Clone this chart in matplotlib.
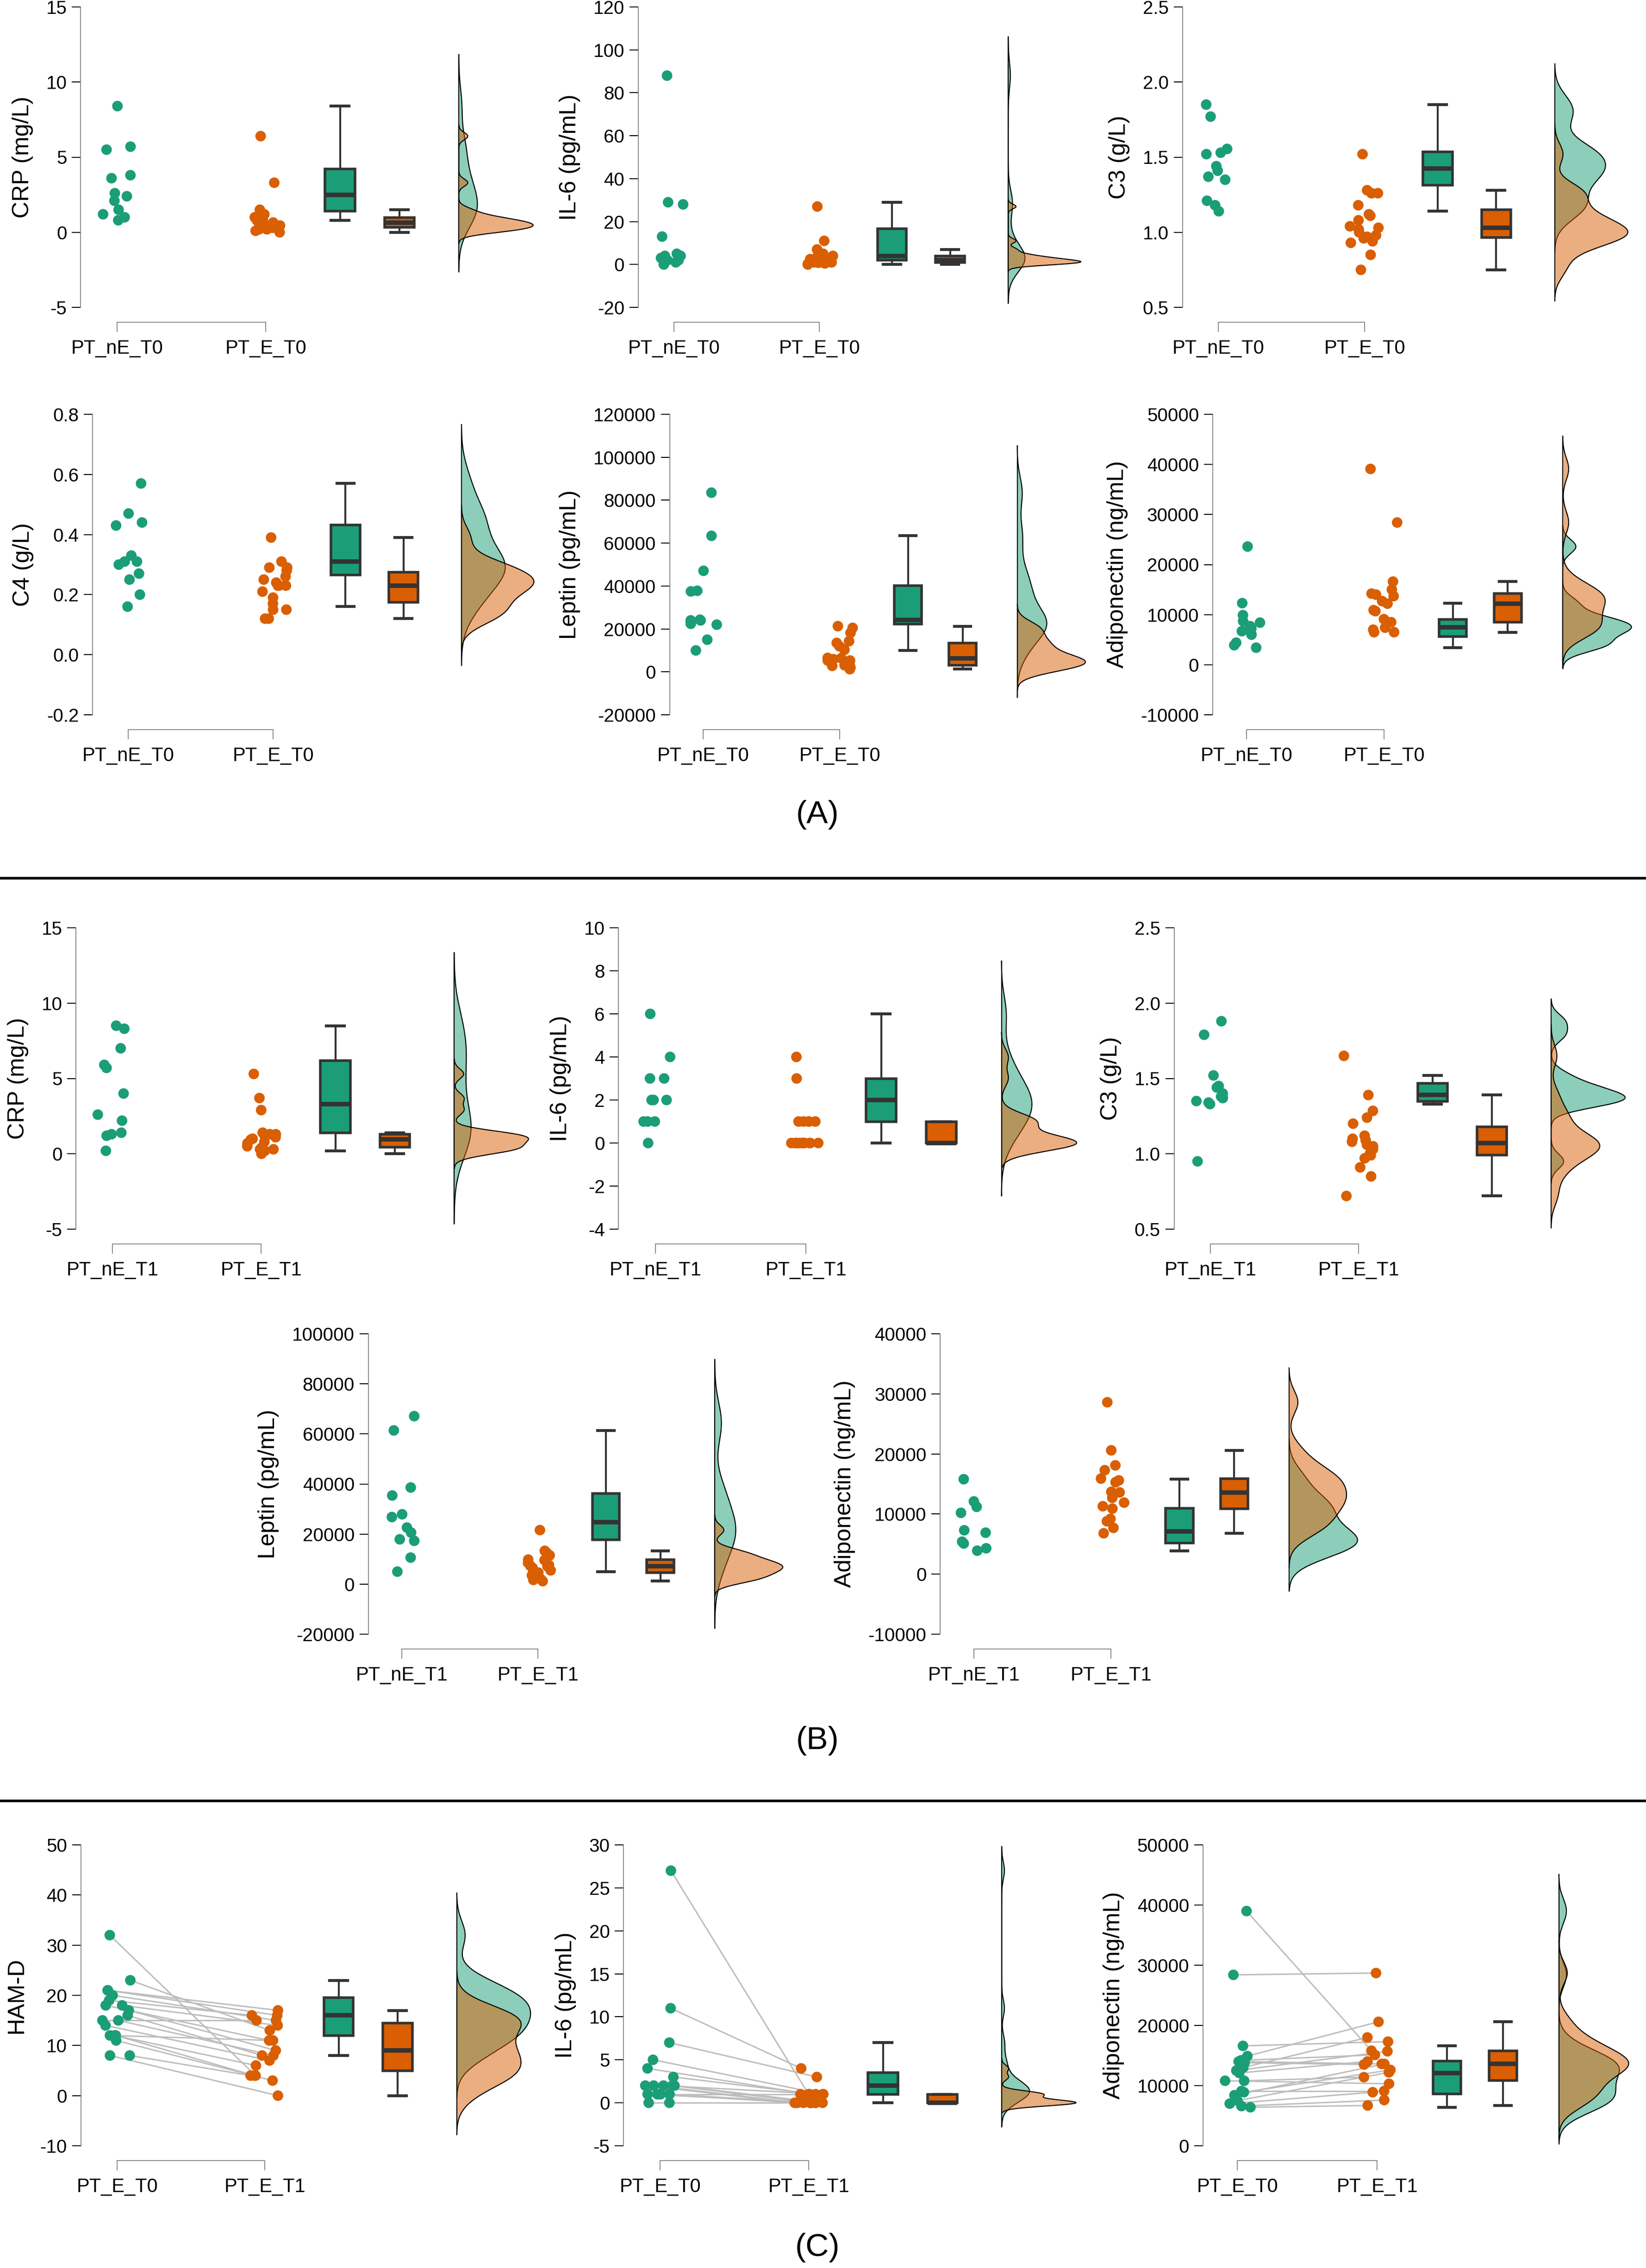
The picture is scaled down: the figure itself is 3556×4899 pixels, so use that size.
import numpy as np
import matplotlib
matplotlib.use("Agg")
import matplotlib.pyplot as plt
from matplotlib.lines import Line2D

plt.rcParams["font.family"] = ["Liberation Sans", "DejaVu Sans"]
plt.rcParams["axes.unicode_minus"] = False

TEAL = "#1B9E77"
ORANGE = "#D95F02"
DARK = "#333333"

# ---------------- (A) baseline T0 ----------------
crp_ne_t0 = [8.4, 5.7, 5.5, 3.8, 3.6, 2.6, 2.4, 2.1, 1.5, 1.2, 1.0, 0.8]
crp_e_t0 = [6.4, 3.3, 1.5, 1.2, 1.0, 0.9, 0.8, 0.7, 0.65, 0.6, 0.5, 0.45,
            0.4, 0.3, 0.2, 0.2, 0.1, 0.0]
il6_ne_t0 = [88, 29, 28, 13, 5, 4, 4, 3, 2, 2, 1, 0]
il6_e_t0 = [27, 11, 7, 5, 4, 3.5, 3, 2.5, 2, 2, 1.5, 1.2, 1, 1, 0.8, 0.5, 0.3, 0]
c3_ne_t0 = [1.85, 1.77, 1.555, 1.53, 1.52, 1.44, 1.41, 1.37, 1.35, 1.21, 1.18, 1.14]
c3_e_t0 = [1.52, 1.28, 1.26, 1.26, 1.18, 1.12, 1.11, 1.08, 1.04, 1.03, 1.02, 1.0,
           0.98, 0.97, 0.96, 0.94, 0.93, 0.85, 0.75]
c4_ne_t0 = [0.57, 0.47, 0.44, 0.43, 0.33, 0.31, 0.31, 0.30, 0.27, 0.25, 0.20, 0.16]
c4_e_t0 = [0.39, 0.31, 0.29, 0.29, 0.28, 0.26, 0.25, 0.24, 0.23, 0.23, 0.23, 0.21,
           0.19, 0.17, 0.15, 0.15, 0.12, 0.12]
leptin_ne_t0 = [83500, 63400, 47100, 37800, 37500, 24300, 24000, 24000, 22400,
                22000, 15000, 10000]
leptin_e_t0 = [21300, 20500, 18200, 14300, 13500, 11900, 10300, 6500, 6400, 5900,
               5300, 5300, 3100, 3100, 2800, 2000, 1250]
adipo_ne_t0 = [23600, 12300, 9900, 8700, 8400, 7700, 7200, 6700, 6000, 4400, 3900, 3400]
adipo_e_t0 = [39100, 28400, 16600, 15000, 14200, 14000, 13700, 12700, 12200, 10900,
              10700, 9100, 8500, 7400, 7000, 6500, 6500]

# ---------------- (B) follow-up T1 ----------------
crp_ne_t1 = [8.5, 8.3, 7.0, 5.9, 5.7, 4.0, 2.6, 2.2, 1.4, 1.3, 1.2, 0.2]
crp_e_t1 = [5.3, 3.7, 2.9, 1.4, 1.3, 1.3, 1.2, 1.1, 1.0, 0.95, 0.8, 0.7, 0.5, 0.4,
            0.3, 0.3, 0.2, 0.0]
il6_ne_t1 = [6, 4, 3, 3, 2, 2, 2, 2, 1, 1, 1, 0]
il6_e_t1 = [4, 3, 1, 1, 1, 1, 1, 0, 0, 0, 0, 0, 0, 0, 0, 0, 0, 0]
c3_ne_t1 = [1.88, 1.79, 1.52, 1.45, 1.44, 1.40, 1.38, 1.37, 1.35, 1.34, 1.33, 0.95]
c3_e_t1 = [1.65, 1.39, 1.285, 1.24, 1.20, 1.12, 1.10, 1.09, 1.08, 1.06, 1.05, 1.03,
           1.00, 0.99, 0.97, 0.91, 0.85, 0.72]
leptin_ne_t1 = [67100, 61400, 38600, 35400, 27900, 26800, 22600, 20600, 17900,
                17300, 10600, 5000]
leptin_e_t1 = [21600, 13300, 12500, 11500, 9800, 9600, 8500, 7600, 7300, 7100, 6500,
               5500, 4600, 4500, 3500, 2000, 1700, 1200]
adipo_ne_t1 = [15800, 12100, 11200, 10200, 7300, 6900, 5400, 5100, 4300, 3900]
adipo_e_t1 = [28600, 20600, 18100, 17300, 15900, 15600, 15300, 13700, 13600, 12700,
              11900, 11300, 10900, 9200, 8800, 7700, 6800]

# ---------------- (C) paired exercise group T0 -> T1 ----------------
hamd_t0 = [32, 23, 21, 21, 20, 19, 18, 18, 17, 16, 15, 15, 14, 12, 12, 12, 11, 8, 8]
hamd_t1 = [4, 13, 17, 16, 15, 16, 14, 11, 9, 8, 15, 8, 7, 11, 6, 4, 3, 4, 0]
il6_pair_t0 = [27, 11, 7, 5, 4, 3, 2, 2, 2, 2, 2, 1, 1, 1, 1, 1, 1, 0, 0]
il6_pair_t1 = [1, 4, 3, 1, 1, 1, 1, 0, 0, 0, 0, 1, 0, 0, 0, 0, 0, 0, 0]
adipo_pair_t0 = [39000, 28400, 16600, 14900, 14200, 14000, 13800, 13000, 12500, 12100,
                 10800, 10800, 9100, 8900, 8400, 7500, 7000, 6600, 6400]
adipo_pair_t1 = [15800, 28700, 17300, 20600, 15100, 13600, 13500, 18000, 15700, 14000,
                 11400, 10300, 9100, 12600, 13600, 12200, 8900, 7600, 6700]

labels_t0 = ["PT_nE_T0", "PT_E_T0"]
labels_t1 = ["PT_nE_T1", "PT_E_T1"]
labels_pair = ["PT_E_T0", "PT_E_T1"]

W, H = 3556, 4899
fig = plt.figure(figsize=(W / 100, H / 100), dpi=100)


def nrd0(x):
    x = np.asarray(x, float)
    sd = np.std(x, ddof=1)
    q75, q25 = np.percentile(x, [75, 25])
    lo = min(sd, (q75 - q25) / 1.34)
    if lo <= 0:
        lo = sd if sd > 0 else 1.0
    return 0.9 * lo * len(x) ** -0.2


def kde(x):
    x = np.asarray(x, float)
    bw = nrd0(x)
    y = np.linspace(x.min() - 3 * bw, x.max() + 3 * bw, 600)
    d = np.exp(-0.5 * ((y[:, None] - x[None, :]) / bw) ** 2).sum(1)
    d /= len(x) * bw * np.sqrt(2 * np.pi)
    return y, d


def raincloud(spec, a, b, xlabels, ylabel, yticks, fmt, paired=False, seed=0):
    cat1, unit, top, bot = spec
    x0, x1 = -0.245, 2.85
    left = cat1 + x0 * unit
    ax = fig.add_axes([left / W, 1 - bot / H, (x1 - x0) * unit / W, (bot - top) / H])
    ax.set_xlim(x0, x1)
    ax.set_ylim(yticks[0], yticks[-1])

    rng = np.random.default_rng(seed)
    ja = rng.uniform(-0.1, 0.1, len(a))
    jb = 1 + rng.uniform(-0.1, 0.1, len(b))
    if paired:
        for i in range(len(a)):
            ax.plot([ja[i], jb[i]], [a[i], b[i]], color="#BDBDBD", lw=2.2, zorder=2)
    ax.scatter(ja, a, s=270, color=TEAL, edgecolors="none", zorder=3, clip_on=False)
    ax.scatter(jb, b, s=270, color=ORANGE, edgecolors="none", zorder=3, clip_on=False)

    for pos, vals, col in [(1.5, a, TEAL), (1.9, b, ORANGE)]:
        ax.boxplot([vals], positions=[pos], widths=0.2, patch_artist=True,
                   showfliers=False, capwidths=0.12,
                   boxprops=dict(facecolor=col, edgecolor=DARK, linewidth=4),
                   medianprops=dict(color=DARK, linewidth=7),
                   whiskerprops=dict(color=DARK, linewidth=3),
                   capprops=dict(color=DARK, linewidth=4.5))

    ya, da = kde(a)
    yb, db = kde(b)
    scale = 0.5 / max(da.max(), db.max())
    base = 2.3
    for yy, dd, col in [(ya, da, TEAL), (yb, db, ORANGE)]:
        ax.fill_betweenx(yy, base, base + dd * scale, color=col, alpha=0.5, lw=0,
                         zorder=2, clip_on=False)
        ax.plot(base + dd * scale, yy, color="black", lw=1.6, zorder=2, clip_on=False)
        ax.plot([base, base], [yy[0], yy[-1]], color="black", lw=1.6, zorder=2,
                clip_on=False)

    for s in ["top", "right"]:
        ax.spines[s].set_visible(False)
    ax.spines["left"].set_color("#777777")
    ax.spines["left"].set_linewidth(1.2)
    ax.spines["bottom"].set_color("#777777")
    ax.spines["bottom"].set_linewidth(1.2)
    ax.spines["bottom"].set_position(("outward", 23))
    ax.spines["bottom"].set_bounds(0, 1)

    ax.set_xticks([0, 1])
    ax.set_xticklabels(xlabels)
    ax.set_yticks(yticks)
    ax.set_yticklabels([fmt % v for v in yticks])
    ax.tick_params(axis="y", length=13.5, width=1.5, color="black", pad=8,
                   labelsize=29)
    ax.tick_params(axis="x", length=15, width=1.2, color="#777777", pad=12,
                   labelsize=30)
    ax.set_ylabel(ylabel, fontsize=36, labelpad=20)
    ax.patch.set_alpha(0)
    return ax


# layout: (x of first category px, px per category step, top px, bottom px)
rowA1 = (15, 664)
rowA2 = (895, 1544)
rowB1 = (2004, 2655)
rowB2 = (2881, 3530)
rowC = (3985, 4635)

raincloud((253, 321) + rowA1, crp_ne_t0, crp_e_t0, labels_t0, "CRP (mg/L)",
          np.arange(-5, 16, 5), "%d", seed=1)
raincloud((1456, 314) + rowA1, il6_ne_t0, il6_e_t0, labels_t0, "IL-6 (pg/mL)",
          np.arange(-20, 121, 20), "%d", seed=2)
raincloud((2632, 316) + rowA1, c3_ne_t0, c3_e_t0, labels_t0, "C3 (g/L)",
          np.arange(0.5, 2.51, 0.5), "%.1f", seed=3)
raincloud((277, 313) + rowA2, c4_ne_t0, c4_e_t0, labels_t0, "C4 (g/L)",
          np.round(np.arange(-0.2, 0.81, 0.2), 1), "%.1f", seed=4)
raincloud((1519, 295) + rowA2, leptin_ne_t0, leptin_e_t0, labels_t0, "Leptin (pg/mL)",
          np.arange(-20000, 120001, 20000), "%d", seed=5)
raincloud((2693, 297) + rowA2, adipo_ne_t0, adipo_e_t0, labels_t0,
          "Adiponectin (ng/mL)", np.arange(-10000, 50001, 10000), "%d", seed=6)

raincloud((243, 321) + rowB1, crp_ne_t1, crp_e_t1, labels_t1, "CRP (mg/L)",
          np.arange(-5, 16, 5), "%d", seed=7)
raincloud((1416, 325) + rowB1, il6_ne_t1, il6_e_t1, labels_t1, "IL-6 (pg/mL)",
          np.arange(-4, 11, 2), "%d", seed=8)
raincloud((2615, 320) + rowB1, c3_ne_t1, c3_e_t1, labels_t1, "C3 (g/L)",
          np.arange(0.5, 2.51, 0.5), "%.1f", seed=9)
raincloud((868, 294) + rowB2, leptin_ne_t1, leptin_e_t1, labels_t1, "Leptin (pg/mL)",
          np.arange(-20000, 100001, 20000), "%d", seed=10)
raincloud((2104, 296) + rowB2, adipo_ne_t1, adipo_e_t1, labels_t1,
          "Adiponectin (ng/mL)", np.arange(-10000, 40001, 10000), "%d", seed=11)

raincloud((253, 319) + rowC, hamd_t0, hamd_t1, labels_pair, "HAM-D",
          np.arange(-10, 51, 10), "%d", paired=True, seed=12)
raincloud((1426, 321) + rowC, il6_pair_t0, il6_pair_t1, labels_pair, "IL-6 (pg/mL)",
          np.arange(-5, 31, 5), "%d", paired=True, seed=13)
raincloud((2673, 302) + rowC, adipo_pair_t0, adipo_pair_t1, labels_pair,
          "Adiponectin (ng/mL)", np.arange(0, 50001, 10000), "%d", paired=True, seed=14)

# section separators and panel letters
for ypx in [1897, 3890]:
    fig.add_artist(Line2D([0, 1], [1 - ypx / H] * 2, transform=fig.transFigure,
                          color="black", lw=4))
for txt, ypx in [("(A)", 1760), ("(B)", 3760), ("(C)", 4855)]:
    fig.text(1766 / W, 1 - ypx / H, txt, fontsize=50, ha="center", va="center")

fig.savefig("out.png", dpi=100)
